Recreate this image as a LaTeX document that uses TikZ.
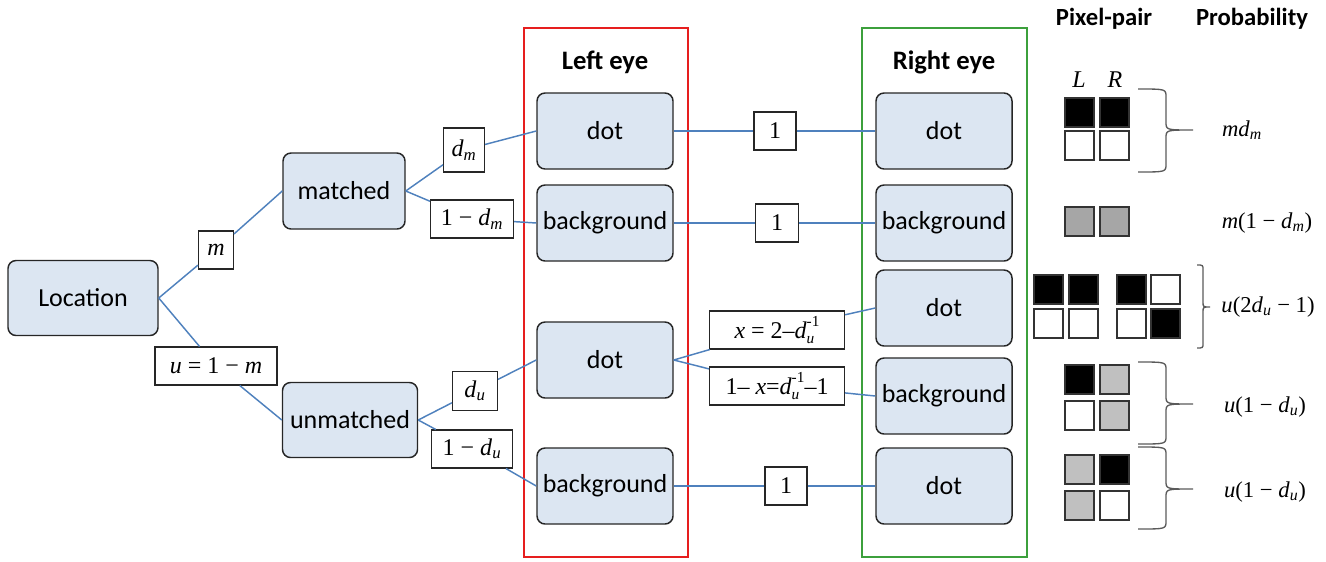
\documentclass[tikz,border=0pt]{standalone}
\usepackage{fontspec}
\setmainfont{Carlito}
\newfontfamily\tnr{Liberation Serif}
\definecolor{nodeblue}{RGB}{220,230,242}
\definecolor{linkblue}{RGB}{79,129,189}
\definecolor{eyered}{RGB}{230,30,30}
\definecolor{eyegreen}{RGB}{60,160,60}
\definecolor{darkgrey}{RGB}{166,166,166}
\definecolor{lightgrey}{RGB}{192,192,192}
\definecolor{bracegrey}{RGB}{90,90,90}
% subscript / superscript helpers in the serif face
\newcommand\sbi[1]{\textsubscript{\textit{#1}}}
\newcommand\smallscript{\fontsize{11.5}{12}\selectfont}
\newcommand\dinv{\textit{d}\rlap{\raisebox{-0.45ex}{\smallscript\textit{u}}}\raisebox{1.1ex}{\smallscript -1}}
% right-pointing curly brace: x0 ends, xm spine, xt tip, yt top, yb bottom, ym tip height, r bend
\newcommand\curlybr[7]{%
  \draw[bracegrey, line width=1pt]
    (#1,#4) .. controls (#2,#4) .. (#2,#4+#7) -- (#2,#6-#7)
    .. controls (#2,#6) .. (#3,#6)
    (#3,#6) .. controls (#2,#6) .. (#2,#6+#7) -- (#2,#5-#7)
    .. controls (#2,#5) .. (#1,#5);}
\newcommand\pix[3]{\draw[pixel, fill=#3] (#1,#2) rectangle +(29,29);}
\begin{document}
\begin{tikzpicture}[x=0.75pt,y=-0.75pt,
  box/.style={draw=black!85, line width=1.1pt, fill=nodeblue, rounded corners=6pt,
    inner sep=0pt, font=\fontsize{19.5}{22}\selectfont},
  eyebox/.style={box, minimum width=102pt, minimum height=57pt},
  lbl/.style={draw=black!85, line width=0.8pt, fill=white, inner sep=0pt,
    minimum height=28.5pt, font=\tnr\fontsize{18}{20}\selectfont},
  link/.style={draw=linkblue, line width=1.1pt},
  head/.style={font=\bfseries\fontsize{20}{23}\selectfont},
  colhead/.style={font=\bfseries\fontsize{18.5}{22}\selectfont},
  prob/.style={font=\tnr\fontsize{17}{20}\selectfont},
  pixel/.style={draw=black!80, line width=1pt}]
\useasboundingbox (0,0) rectangle (1326,561);

% eye frames
\draw[eyered, line width=1.1pt] (524,28) rectangle (688,557);
\draw[eyegreen, line width=1.1pt] (862,28) rectangle (1027,557);
\node[head] (lefthead) at (605,62) {Left eye};
\node[head] (righthead) at (944,62) {Right eye};

% tree nodes
\node[box, minimum width=112.5pt, minimum height=56.25pt] (loc) at (83,298) {Location};
\node[box, minimum width=91.5pt, minimum height=57pt] (matched) at (344,191) {matched};
\node[box, minimum width=101.25pt, minimum height=56.25pt] (unmatched) at (350,420) {unmatched};

\node[eyebox] (ldot1) at (605,131) {dot};
\node[eyebox] (lbg1) at (605,223) {background};
\node[eyebox] (ldot2) at (605,360) {dot};
\node[eyebox] (lbg2) at (605,486) {background};

\node[eyebox] (rdot1) at (944,131) {dot};
\node[eyebox] (rbg1) at (944,223) {background};
\node[eyebox] (rdot2) at (944,308) {dot};
\node[eyebox] (rbg2) at (944,396) {background};
\node[eyebox] (rdot3) at (944,486) {dot};

% branch probabilities
\node[lbl, minimum width=26.25pt] (pm) at (216,250) {\textit{m}};
\node[lbl, minimum width=91.5pt] (pu) at (216,366) {\textit{u} = 1 − \textit{m}};
\node[lbl, minimum width=30.75pt, minimum height=33pt] (pdm) at (464,150) {\textit{d}\sbi{m}};
\node[lbl, minimum width=62.25pt] (pndm) at (472,219) {1 − \textit{d}\sbi{m}};
\node[lbl, minimum width=33.75pt, minimum height=29.25pt] (pdu) at (475,391) {\textit{d}\sbi{u}};
\node[lbl, minimum width=60.75pt] (pndu) at (472,449) {1 − \textit{d}\sbi{u}};
\node[lbl, minimum width=31.5pt] (one1) at (775,131) {1};
\node[lbl, minimum width=32.25pt] (one2) at (777,223) {1};
\node[lbl, minimum width=31.5pt] (one3) at (786,486) {1};
\node[lbl, minimum width=101.25pt] (px) at (777,330) {\textit{x} = 2–\dinv};
\node[lbl, minimum width=101.25pt] (pnx) at (777,386) {1– \textit{x}=\dinv–1};

% connectors
\draw[link] (loc.east) -- (pm) -- (matched.west);
\draw[link] (loc.east) -- (pu) -- (unmatched.west);
\draw[link] (matched.east) -- (pdm) -- (ldot1.west);
\draw[link] (matched.east) -- (pndm) -- (lbg1.west);
\draw[link] (unmatched.east) -- (pdu) -- (ldot2.west);
\draw[link] (unmatched.east) -- (pndu) -- (lbg2.west);
\draw[link] (ldot1.east) -- (one1) -- (rdot1.west);
\draw[link] (lbg1.east) -- (one2) -- (rbg1.west);
\draw[link] (ldot2.east) -- (px) -- (rdot2.west);
\draw[link] (ldot2.east) -- (pnx) -- (rbg2.west);
\draw[link] (lbg2.east) -- (one3) -- (rdot3.west);

% pixel-pair column
\node[colhead] (pphead) at (1104,19) {Pixel-pair};
\node[colhead] (prhead) at (1252,19) {Probability};
\node[font=\tnr\itshape\fontsize{18}{20}\selectfont] (lL) at (1079,80) {L};
\node[font=\tnr\itshape\fontsize{18}{20}\selectfont] (lR) at (1115,80) {R};

\pix{1065}{98}{black}   \pix{1100}{98}{black}
\pix{1065}{131}{white}  \pix{1100}{131}{white}

\pix{1065}{207}{darkgrey} \pix{1100}{207}{darkgrey}

\pix{1034}{275}{black}  \pix{1069}{275}{black}  \pix{1117}{275}{black}  \pix{1151}{275}{white}
\pix{1034}{309}{white}  \pix{1069}{309}{white}  \pix{1117}{309}{white}  \pix{1151}{309}{black}

\pix{1065}{365}{black}     \pix{1100}{365}{lightgrey}
\pix{1065}{401}{white}     \pix{1100}{401}{lightgrey}

\pix{1065}{455}{lightgrey} \pix{1100}{455}{black}
\pix{1065}{491}{lightgrey} \pix{1100}{491}{white}

\curlybr{1138}{1166}{1193}{89}{172}{130}{8}
\curlybr{1197}{1203}{1210}{265}{348}{307}{5}
\curlybr{1138}{1166}{1193}{362}{444}{404}{8}
\curlybr{1138}{1166}{1193}{447}{529}{489}{8}

\node[prob] (p1) at (1242,130) {\textit{md}\sbi{m}};
\node[prob] (p2) at (1267,223) {\textit{m}(1 − \textit{d}\sbi{m})};
\node[prob] (p3) at (1268,307) {\textit{u}(2\textit{d}\sbi{u} − 1)};
\node[prob] (p4) at (1265,407) {\textit{u}(1 − \textit{d}\sbi{u})};
\node[prob] (p5) at (1265,492) {\textit{u}(1 − \textit{d}\sbi{u})};
\end{tikzpicture}
\end{document}
